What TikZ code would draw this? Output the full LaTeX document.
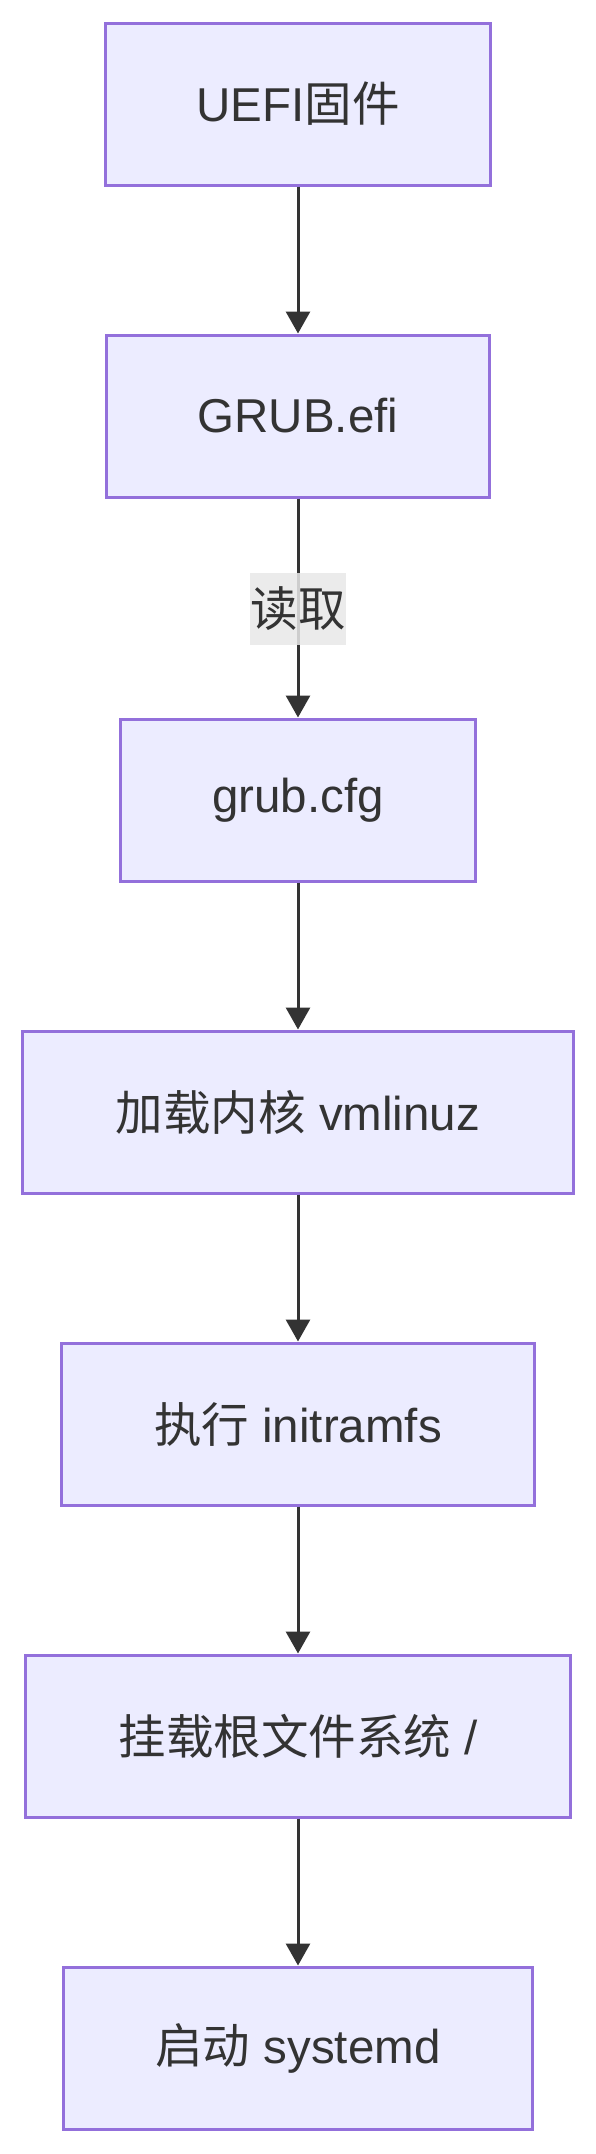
\documentclass[tikz,border=0pt]{standalone}
\usepackage{fontspec}
\setmainfont{Liberation Sans}
\newfontfamily\cjk{Noto Sans CJK SC}
\usetikzlibrary{arrows.meta}
\definecolor{boxfill}{HTML}{ECECFF}
\definecolor{boxline}{HTML}{9370DB}
\definecolor{ink}{HTML}{333333}
\definecolor{lblbg}{HTML}{E8E8E8}
\tikzset{
  flowbox/.style={draw=boxline, fill=boxfill, line width=3bp, minimum height=162bp, inner sep=0pt, text=ink, font=\fontsize{47.5bp}{57bp}\selectfont},
  flowedge/.style={draw=ink, line width=3bp, -{Triangle[length=22bp,width=24bp]}},
  edgelbl/.style={fill=lblbg, fill opacity=0.85, text opacity=1, text=ink, inner sep=0pt, minimum width=96bp, minimum height=72bp, font=\fontsize{47.5bp}{57bp}\selectfont}
}
\begin{document}
\begin{tikzpicture}[x=1bp,y=-1bp]
\useasboundingbox (0,0) rectangle (596,2154);
\node[flowbox, minimum width=385bp] (n1) at (298,104) {UEFI{\cjk 固件}};
\node[flowbox, minimum width=383bp] (n2) at (298,416) {GRUB.efi};
\node[flowbox, minimum width=355bp] (n3) at (298,800) {grub.cfg};
\node[flowbox, minimum width=550bp] (n4) at (298,1112) {{\cjk 加载内核} vmlinuz};
\node[flowbox, minimum width=473bp] (n5) at (298,1424) {{\cjk 执行} initramfs};
\node[flowbox, minimum width=545bp] (n6) at (298,1736) {{\cjk 挂载根文件系统} /};
\node[flowbox, minimum width=469bp] (n7) at (298,2048) {{\cjk 启动} systemd};
\draw[flowedge] (n1) -- (n2);
\draw[flowedge] (n2) -- (n3);
\node[edgelbl] (l1) at (298,608.5) {\cjk 读取};
\draw[flowedge] (n3) -- (n4);
\draw[flowedge] (n4) -- (n5);
\draw[flowedge] (n5) -- (n6);
\draw[flowedge] (n6) -- (n7);
\end{tikzpicture}
\end{document}
